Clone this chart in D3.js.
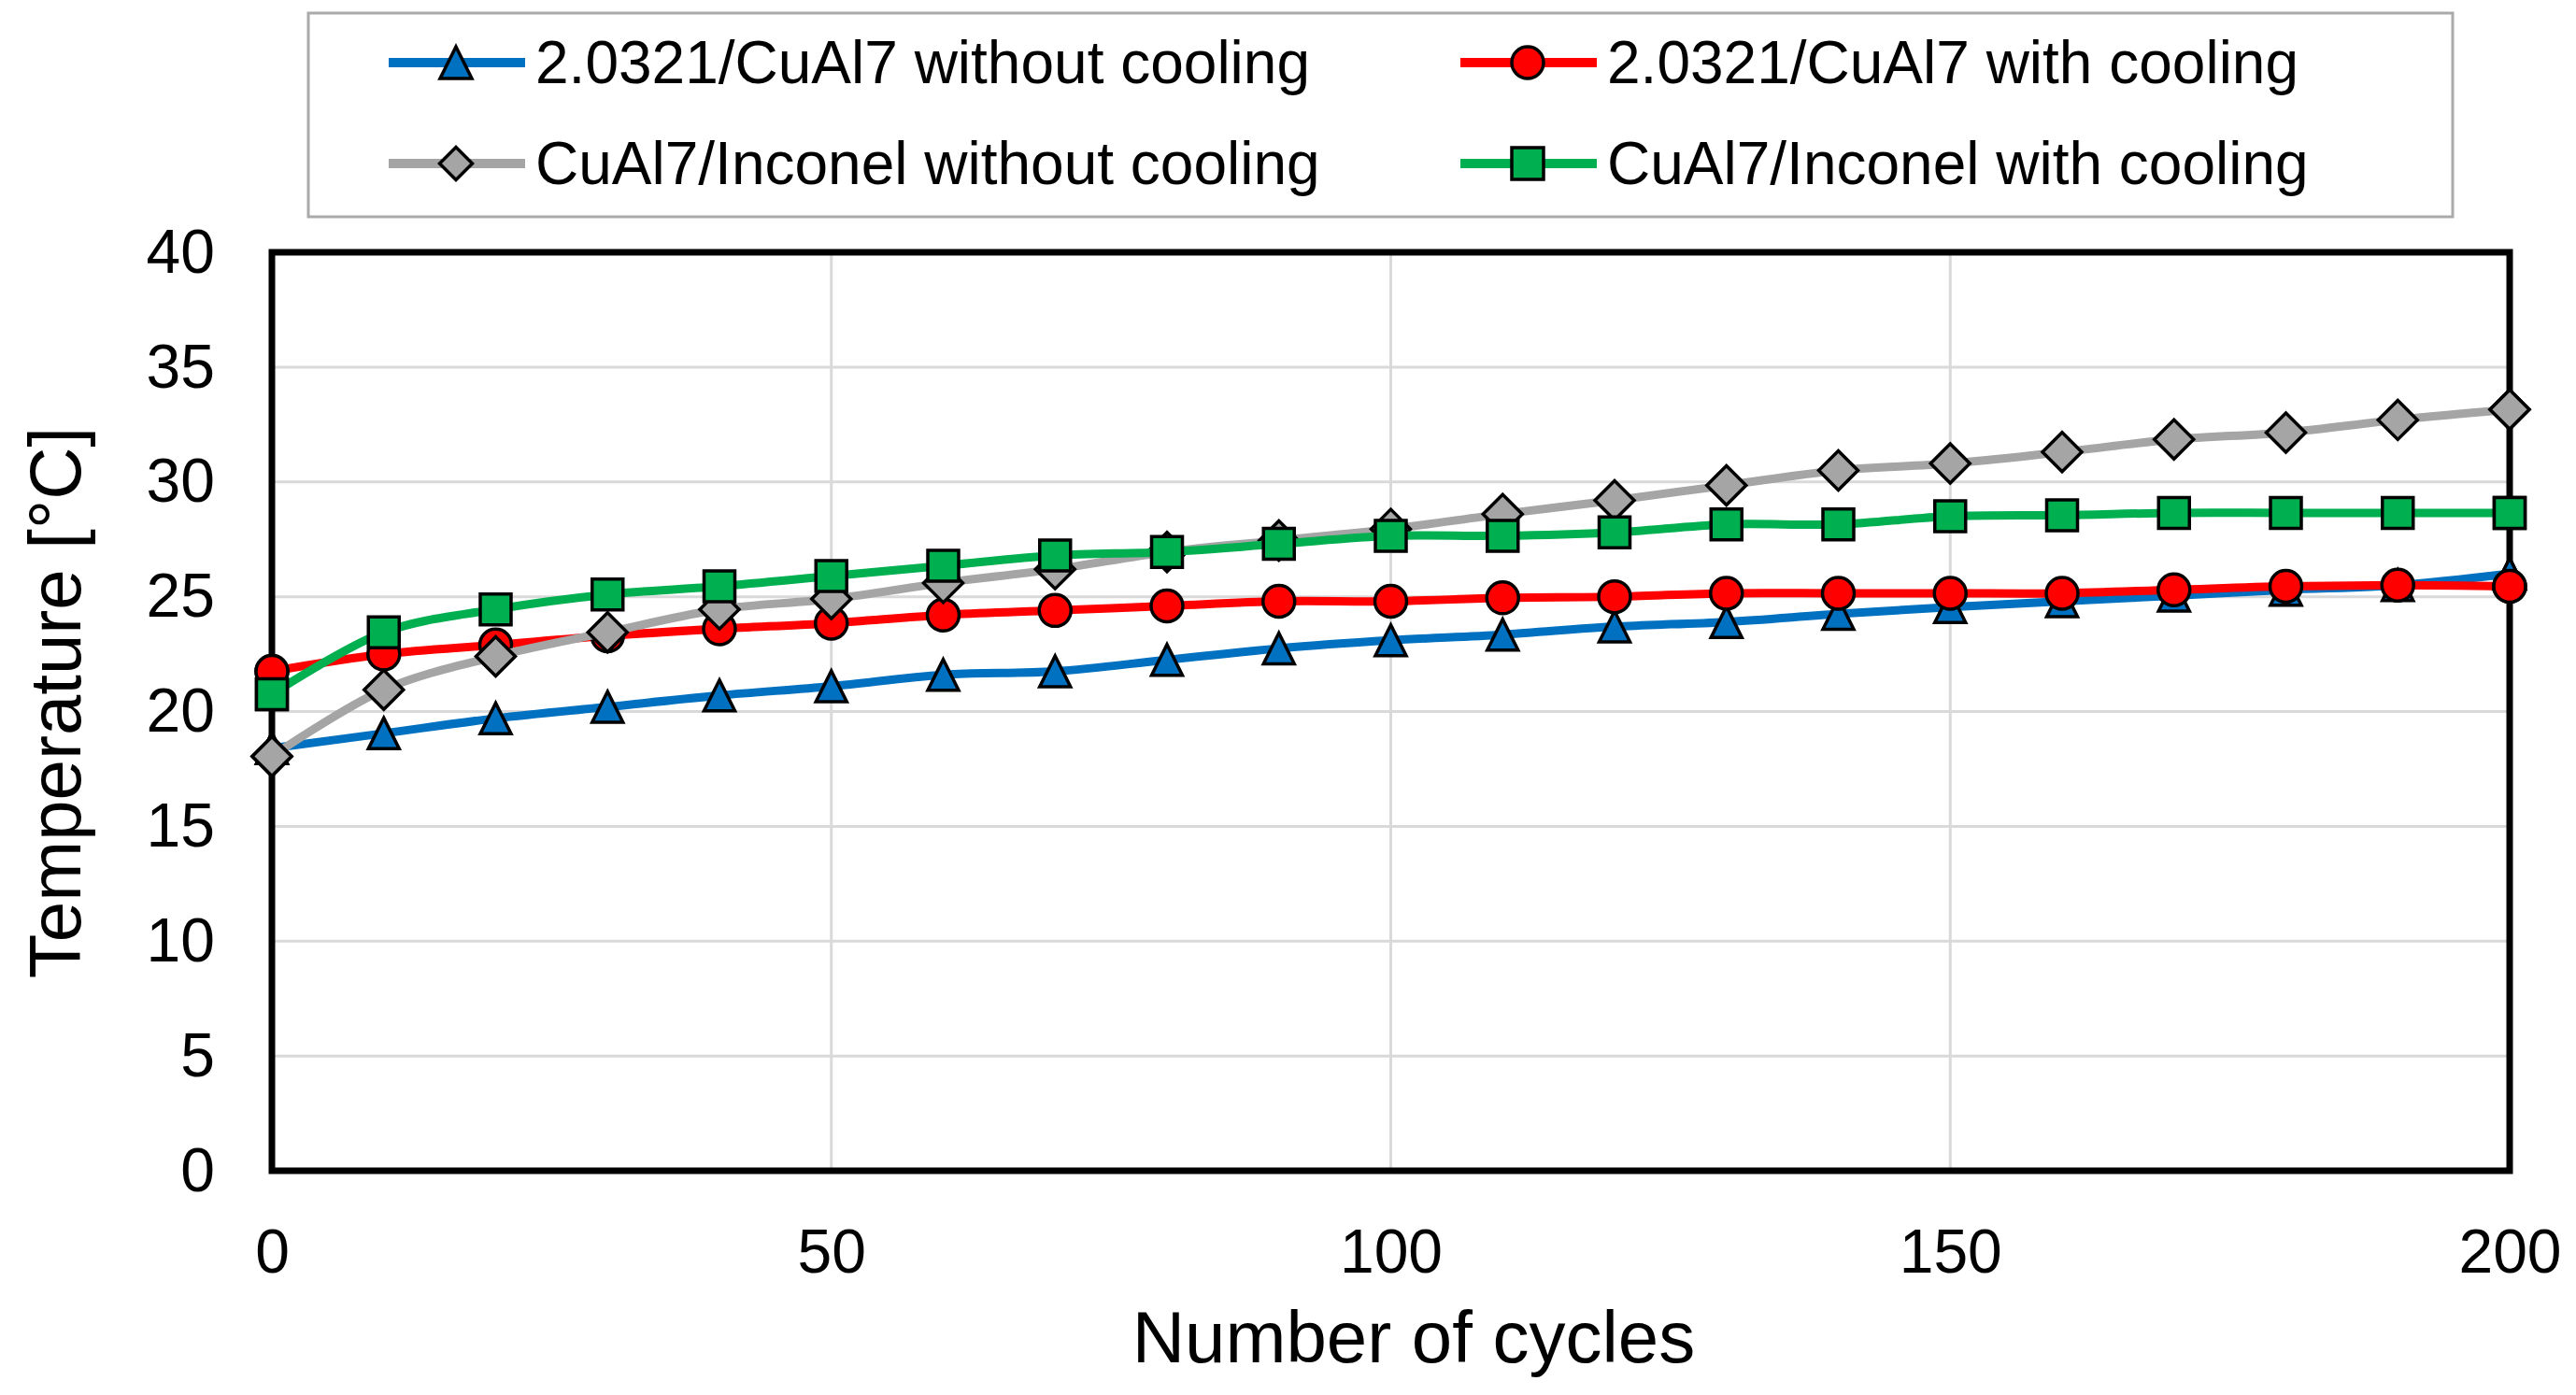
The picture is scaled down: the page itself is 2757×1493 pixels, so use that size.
<!DOCTYPE html>
<html>
<head>
<meta charset="utf-8">
<script src="https://cdn.jsdelivr.net/npm/d3@7"></script>
<style>
  body { margin: 0; background: #fff; }
  svg { display: block; font-family: 'Liberation Sans', Arial, sans-serif; }
</style>
</head>
<body>
<div id="chart"></div>
<script>
const cycles = [0, 10, 20, 30, 40, 50, 60, 70, 80, 90, 100, 110, 120, 130, 140, 150, 160, 170, 180, 190, 200];

const steelNoCooling = [18.4, 19.05, 19.7, 20.2, 20.7, 21.1, 21.6, 21.75, 22.25, 22.75, 23.1, 23.35, 23.7, 23.9, 24.25, 24.55, 24.8, 25.05, 25.3, 25.5, 26.0];
const steelCooling = [21.75, 22.5, 22.9, 23.3, 23.6, 23.85, 24.2, 24.4, 24.6, 24.8, 24.8, 24.95, 25.0, 25.15, 25.15, 25.15, 25.15, 25.3, 25.45, 25.5, 25.45];
const inconelNoCooling = [18.05, 20.95, 22.4, 23.45, 24.45, 24.9, 25.6, 26.2, 26.95, 27.45, 27.95, 28.6, 29.2, 29.85, 30.5, 30.8, 31.3, 31.85, 32.15, 32.7, 33.15];
const inconelCooling = [20.75, 23.45, 24.45, 25.1, 25.45, 25.9, 26.35, 26.8, 26.95, 27.3, 27.65, 27.65, 27.8, 28.15, 28.15, 28.5, 28.55, 28.65, 28.65, 28.65, 28.65];

const seriesNames = [
  '2.0321/CuAl7 without cooling',
  '2.0321/CuAl7 with cooling',
  'CuAl7/Inconel without cooling',
  'CuAl7/Inconel with cooling'
];
const xTicks = [0, 50, 100, 150, 200];
const yTicks = [0, 5, 10, 15, 20, 25, 30, 35, 40];

// draw order follows the reference: green ends up on top
const series = [
  { name: seriesNames[0], values: steelNoCooling, color: '#0070c0', marker: 'triangle' },
  { name: seriesNames[1], values: steelCooling, color: '#ff0000', marker: 'circle' },
  { name: seriesNames[2], values: inconelNoCooling, color: '#a5a5a5', marker: 'diamond' },
  { name: seriesNames[3], values: inconelCooling, color: '#00b050', marker: 'square' }
];

const width = 2757;
const height = 1493;
const plot = { left: 291, right: 2686, top: 270, bottom: 1253 };

const svg = d3.select('#chart')
  .append('svg')
  .attr('width', width)
  .attr('height', height);

svg.append('rect')
  .attr('width', width)
  .attr('height', height)
  .attr('fill', '#fff');

const x = d3.scaleLinear().domain([0, 200]).range([plot.left, plot.right]);
const y = d3.scaleLinear().domain([0, 40]).range([plot.bottom, plot.top]);

// grid
const grid = svg.append('g').attr('class', 'grid');
grid.selectAll('.hgrid')
  .data(yTicks.slice(1, -1))
  .join('line')
  .attr('class', 'hgrid')
  .attr('x1', plot.left)
  .attr('x2', plot.right)
  .attr('y1', d => y(d))
  .attr('y2', d => y(d))
  .attr('stroke', '#d9d9d9')
  .attr('stroke-width', 3);

grid.selectAll('.vgrid')
  .data(xTicks.slice(1, -1))
  .join('line')
  .attr('class', 'vgrid')
  .attr('x1', d => x(d))
  .attr('x2', d => x(d))
  .attr('y1', plot.top)
  .attr('y2', plot.bottom)
  .attr('stroke', '#d9d9d9')
  .attr('stroke-width', 3);

// axes (labels only, domain drawn as frame)
const yAxis = svg.append('g')
  .attr('transform', `translate(${plot.left}, 0)`)
  .call(d3.axisLeft(y).tickValues(yTicks).tickSize(0).tickPadding(61));
yAxis.select('.domain').remove();
yAxis.selectAll('text')
  .attr('font-size', 66)
  .attr('font-family', "'Liberation Sans', Arial, sans-serif")
  .attr('fill', '#000');

const xAxis = svg.append('g')
  .attr('transform', `translate(0, ${plot.bottom})`)
  .call(d3.axisBottom(x).tickValues(xTicks).tickSize(0).tickPadding(62));
xAxis.select('.domain').remove();
xAxis.selectAll('text')
  .attr('font-size', 66)
  .attr('font-family', "'Liberation Sans', Arial, sans-serif")
  .attr('fill', '#000');

// axis titles
svg.append('text')
  .attr('x', 1513)
  .attr('y', 1458)
  .attr('text-anchor', 'middle')
  .attr('font-size', 78)
  .attr('fill', '#000')
  .text('Number of cycles');

svg.append('text')
  .attr('transform', 'translate(86, 752) rotate(-90)')
  .attr('text-anchor', 'middle')
  .attr('font-size', 78)
  .attr('fill', '#000')
  .text('Temperature [°C]');

// marker shapes
function markerPath(type, s) {
  const h = s / 2;
  if (type === 'triangle') return `M0,${-h}L${h},${h}L${-h},${h}Z`;
  if (type === 'diamond') return `M0,${-h}L${h},0L0,${h}L${-h},0Z`;
  if (type === 'square') return `M${-h},${-h}H${h}V${h}H${-h}Z`;
  return d3.symbol(d3.symbolCircle, Math.PI * h * h)();
}
const markerSize = { triangle: 33, diamond: 42, square: 33, circle: 34 };

const line = d3.line()
  .x((d, i) => x(cycles[i]))
  .y(d => y(d))
  .curve(d3.curveCatmullRom.alpha(0.5));

const seriesG = svg.append('g').attr('class', 'series');
series.forEach(s => {
  const g = seriesG.append('g');
  g.append('path')
    .attr('d', line(s.values))
    .attr('fill', 'none')
    .attr('stroke', s.color)
    .attr('stroke-width', 9)
    .attr('stroke-linejoin', 'round');

  g.selectAll('.pt')
    .data(s.values)
    .join('path')
    .attr('class', 'pt')
    .attr('transform', (d, i) => `translate(${x(cycles[i])}, ${y(d)})`)
    .attr('d', markerPath(s.marker, markerSize[s.marker]))
    .attr('fill', s.color)
    .attr('stroke', '#000')
    .attr('stroke-width', 3.5)
    .attr('stroke-linejoin', 'miter');
});

// plot frame
svg.append('rect')
  .attr('x', plot.left)
  .attr('y', plot.top)
  .attr('width', plot.right - plot.left)
  .attr('height', plot.bottom - plot.top)
  .attr('fill', 'none')
  .attr('stroke', '#000')
  .attr('stroke-width', 7);

// redraw markers that sit on the frame so they stay on top of it
series.forEach(s => {
  [0, s.values.length - 1].forEach(i => {
    svg.append('path')
      .attr('transform', `translate(${x(cycles[i])}, ${y(s.values[i])})`)
      .attr('d', markerPath(s.marker, markerSize[s.marker]))
      .attr('fill', s.color)
      .attr('stroke', '#000')
      .attr('stroke-width', 3.5);
  });
});

// legend
const legend = svg.append('g').attr('class', 'legend');
legend.append('rect')
  .attr('x', 330)
  .attr('y', 14)
  .attr('width', 2295)
  .attr('height', 218)
  .attr('fill', '#fff')
  .attr('stroke', '#aaaaaa')
  .attr('stroke-width', 3);

const legendCols = [416, 1563];
const legendRows = [67, 175];
const legendOrder = [0, 1, 2, 3];

legendOrder.forEach((k, i) => {
  const s = series[k];
  const lx = legendCols[i % 2];
  const ly = legendRows[Math.floor(i / 2)];
  const item = legend.append('g').attr('transform', `translate(${lx}, ${ly})`);
  item.append('line')
    .attr('x1', 0)
    .attr('x2', 146)
    .attr('stroke', s.color)
    .attr('stroke-width', 10);
  item.append('path')
    .attr('transform', 'translate(72, 0)')
    .attr('d', markerPath(s.marker, s.marker === 'diamond' ? 35 : 34))
    .attr('fill', s.color)
    .attr('stroke', '#000')
    .attr('stroke-width', 3.5);
  item.append('text')
    .attr('x', 157)
    .attr('y', 0)
    .attr('dy', '0.35em')
    .attr('font-size', 64)
    .attr('fill', '#000')
    .text(s.name);
});
</script>
</body>
</html>
